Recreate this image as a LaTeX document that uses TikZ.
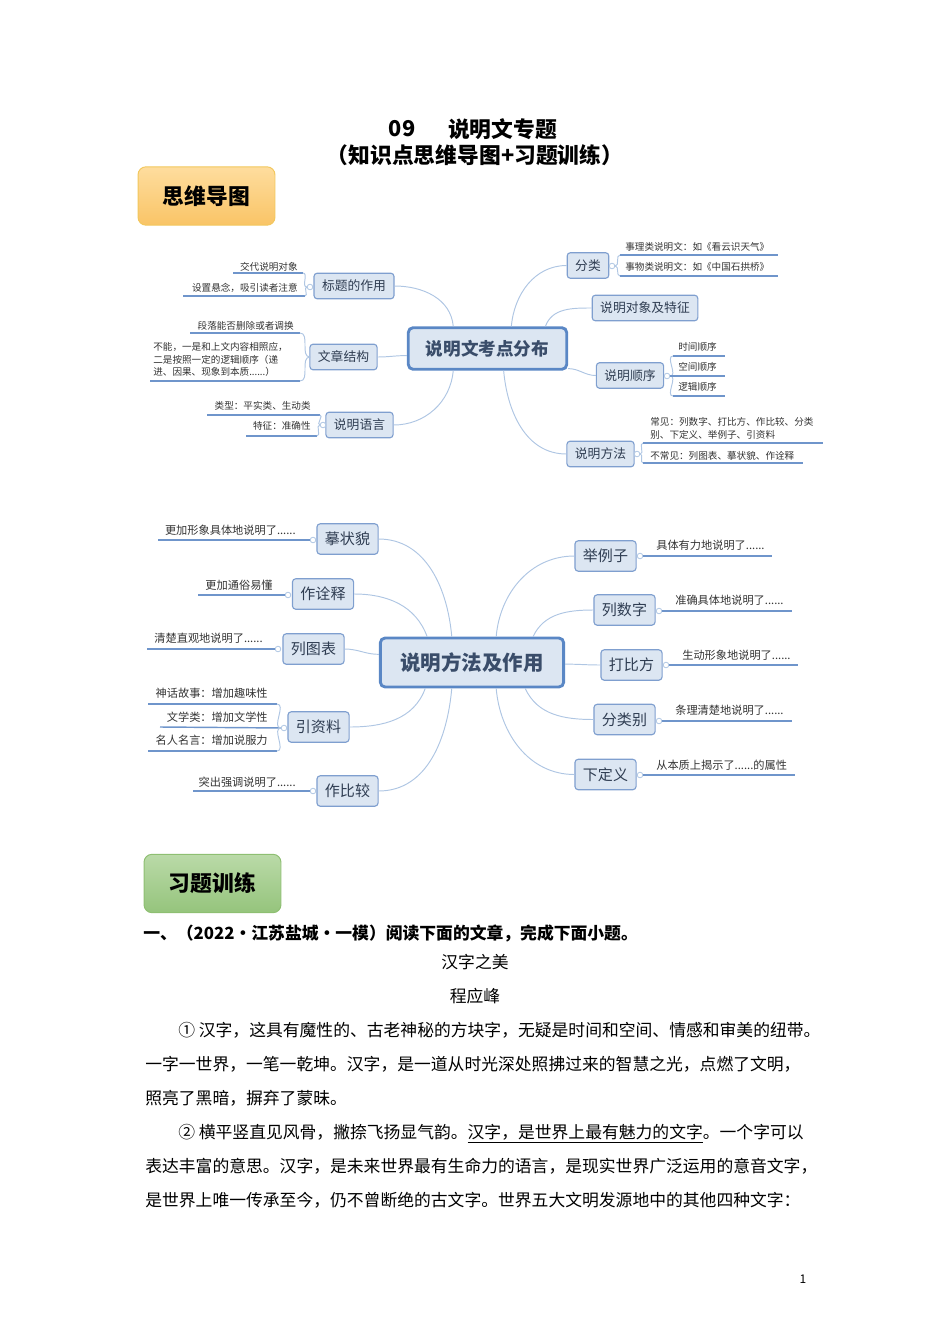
\documentclass[tikz,border=0pt]{standalone}
\usepackage{fontspec}
\setmainfont{Noto Sans CJK SC}
\usepackage{tikz}
\definecolor{boxfill}{HTML}{DCE6F2}
\definecolor{boxline}{HTML}{7F9FCF}
\definecolor{hubline}{HTML}{5A87C5}
\definecolor{linkblue}{HTML}{AFC6E3}
\definecolor{ulblue}{HTML}{6F95CB}
\definecolor{topictext}{HTML}{2F3D52}
\definecolor{hubtext}{HTML}{3A4D6A}
\definecolor{leaftext}{HTML}{333333}
\definecolor{orgtop}{HTML}{FEDD9E}
\definecolor{orgbot}{HTML}{F9C466}
\definecolor{orgline}{HTML}{F2C75C}
\definecolor{grntop}{HTML}{BADAA8}
\definecolor{grnbot}{HTML}{95C47C}
\definecolor{grnline}{HTML}{8EBF72}
\tikzstyle{topic}=[draw=boxline,line width=0.7pt,fill=boxfill,rounded corners=2pt,text=topictext,inner xsep=5pt,inner ysep=0pt,minimum height=16pt,font=\fontsize{8pt}{9pt}\selectfont]
\tikzstyle{topicb}=[topic,minimum height=19pt,font=\fontsize{9.4pt}{11pt}\selectfont]
\tikzstyle{hub}=[draw=hubline,line width=1.8pt,fill=boxfill,rounded corners=3pt,text=hubtext,inner xsep=11pt,inner ysep=0pt,minimum height=26pt,font=\bfseries\fontsize{11pt}{12pt}\selectfont]
\tikzstyle{hubb}=[hub,inner xsep=12.5pt,minimum height=30.6pt,font=\bfseries\fontsize{12.8pt}{14pt}\selectfont]
\tikzstyle{leaf}=[text=leaftext,inner sep=0pt,text height=5.3pt,text depth=0.7pt,font=\fontsize{6pt}{8pt}\selectfont]
\tikzstyle{leafm}=[text=leaftext,inner sep=0pt,align=left,font=\fontsize{6pt}{7.9pt}\selectfont]
\tikzstyle{leafb}=[text=leaftext,inner sep=0pt,text height=6.2pt,text depth=0.8pt,font=\fontsize{7pt}{8pt}\selectfont]
\tikzstyle{uline}=[draw=ulblue,line width=0.9pt]
\tikzstyle{link}=[draw=linkblue,line width=0.6pt]
\tikzstyle{dot}=[circle,draw=linkblue,fill=white,line width=0.5pt,minimum size=3.5pt,inner sep=0pt]
\tikzstyle{tag}=[rounded corners=5pt,line width=0.6pt,minimum width=85.6pt,minimum height=36.5pt,font=\bfseries\fontsize{13.6pt}{15pt}\selectfont]
\tikzstyle{head}=[inner sep=0pt,font=\bfseries\fontsize{13.6pt}{15pt}\selectfont]
\tikzstyle{para}=[inner sep=0pt,anchor=west,text height=9.2pt,text depth=1.3pt,font=\fontsize{10.5pt}{12pt}\selectfont]

\begin{document}
\begin{tikzpicture}[x=0.625pt,y=-0.625pt]
    \useasboundingbox (0,0) rectangle (950,1344);
    % title
    \node[head] (tno) at (402,129) {09};
    \node[head] (ttl) at (502.5,129) {说明文专题};
    \node[head] (sub) at (475,155) {（知识点思维导图+习题训练）};
    \node[tag,draw=orgline,top color=orgtop,bottom color=orgbot] (k1) at (206.5,196) {思维导图};

    % map 1
    \node[hub] (h1) at (487.5,348.5) {说明文考点分布};
    \node[topic] (n1) at (354,286)   {标题的作用};
    \node[topic] (n2) at (343.5,357) {文章结构};
    \node[topic] (n3) at (359.5,425) {说明语言};
    \node[topic] (n4) at (588,265.5) {分类};
    \node[topic] (n5) at (645,308)   {说明对象及特征};
    \node[topic] (n6) at (630,375.5) {说明顺序};
    \node[topic] (n7) at (600.5,454) {说明方法};
    \draw[link] (n1.east) to[out=0,in=95] (h1.147);
    \draw[link] (n2.east) to[out=0,in=180] (h1.185);
    \draw[link] (n3.east) to[out=0,in=265] (h1.213);
    \draw[link] (h1.43) to[out=85,in=180] (n4.west);
    \draw[link] (h1.21) to[out=70,in=180] (n5.west);
    \draw[link] (h1.-14) to[out=0,in=180] (n6.west);
    \draw[link] (h1.-54) to[out=-85,in=180] (n7.west);

    \node[dot] (d1) at (310,287) {};
    \node[leaf,anchor=east] (en11) at (298,267) {交代说明对象};
    \node[leaf,anchor=east] (en12) at (298,288) {设置悬念，吸引读者注意};
    \coordinate (u11) at (233,273); \coordinate (v11) at (303,273);
    \coordinate (u12) at (183,296); \coordinate (v12) at (305,296);
    \draw[uline] (u11) -- (v11);
    \draw[uline] (u12) -- (v12);
    \draw[link] (v11) to[out=0,in=180] (d1);
    \draw[link] (v12) to[out=0,in=180] (d1);

    \coordinate (d2) at (310,357);
    \node[leaf,anchor=east] (en21) at (294,326) {段落能否删除或者调换};
    \node[leafm,anchor=west] (en22) at (153,359.5) {不能，一是和上文内容相照应，\\二是按照一定的逻辑顺序（递\\进、因果、现象到本质......）};
    \coordinate (u21) at (190,333); \coordinate (v21) at (300,333);
    \coordinate (u22) at (150,381); \coordinate (v22) at (300,381);
    \draw[uline] (u21) -- (v21);
    \draw[uline] (u22) -- (v22);
    \draw[link] (v21) to[out=0,in=180] (d2);
    \draw[link] (v22) to[out=0,in=180] (d2);

    \node[dot] (d3) at (323,425) {};
    \node[leaf,anchor=east] (en31) at (311,406) {类型：平实类、生动类};
    \node[leaf,anchor=east] (en32) at (311,426) {特征：准确性};
    \coordinate (u31) at (207,415); \coordinate (v31) at (320,415);
    \coordinate (u32) at (246,436); \coordinate (v32) at (317,436);
    \draw[uline] (u31) -- (v31);
    \draw[uline] (u32) -- (v32);
    \draw[link] (v31) to[out=0,in=180] (d3);
    \draw[link] (v32) to[out=0,in=180] (d3);

    \node[dot] (d4) at (612,266) {};
    \node[leaf,anchor=west] (en41) at (625,247) {事理类说明文：如《看云识天气》};
    \node[leaf,anchor=west] (en42) at (625,267) {事物类说明文：如《中国石拱桥》};
    \coordinate (u41) at (620,255); \coordinate (v41) at (778,255);
    \coordinate (u42) at (620,276); \coordinate (v42) at (778,276);
    \draw[link] (d4) to[out=0,in=180] (u41);
    \draw[link] (d4) to[out=0,in=180] (u42);
    \draw[uline] (u41) -- (v41);
    \draw[uline] (u42) -- (v42);

    \node[dot] (d6) at (667,376) {};
    \node[leaf,anchor=west] (en61) at (678,347) {时间顺序};
    \node[leaf,anchor=west] (en62) at (678,367) {空间顺序};
    \node[leaf,anchor=west] (en63) at (678,387) {逻辑顺序};
    \coordinate (u61) at (673,356); \coordinate (v61) at (725,356);
    \coordinate (u62) at (673,376); \coordinate (v62) at (725,376);
    \coordinate (u63) at (673,396); \coordinate (v63) at (725,396);
    \draw[link] (d6) to[out=0,in=180] (u61);
    \draw[link] (d6) to[out=0,in=180] (u63);
    \draw[uline] (d6) -- (v62);
    \draw[uline] (u61) -- (v61);
    \draw[uline] (u63) -- (v63);

    \node[dot] (d7) at (637,454) {};
    \node[leafm,anchor=west] (en71) at (650,428.5) {常见：列数字、打比方、作比较、分类\\别、下定义、举例子、引资料};
    \node[leaf,anchor=west] (en72) at (650,456) {不常见：列图表、摹状貌、作诠释};
    \coordinate (u71) at (643,443); \coordinate (v71) at (823,443);
    \coordinate (u72) at (643,463); \coordinate (v72) at (803,463);
    \draw[link] (d7) to[out=0,in=180] (u71);
    \draw[link] (d7) to[out=0,in=180] (u72);
    \draw[uline] (u71) -- (v71);
    \draw[uline] (u72) -- (v72);

    % map 2
    \node[hubb] (h2) at (472,662.5) {说明方法及作用};
    \node[topicb] (m1) at (347.5,539)  {摹状貌};
    \node[topicb] (m2) at (323,594)    {作诠释};
    \node[topicb] (m3) at (313.5,649)  {列图表};
    \node[topicb] (m4) at (318.5,727)  {引资料};
    \node[topicb] (m5) at (347.5,791)  {作比较};
    \node[topicb] (m6) at (605.5,556)  {举例子};
    \node[topicb] (m7) at (624.5,610)  {列数字};
    \node[topicb] (m8) at (631.5,665)  {打比方};
    \node[topicb] (m9) at (624.5,719.5) {分类别};
    \node[topicb] (m10) at (605.5,774.5) {下定义};
    \draw[link] (m1.east) to[out=0,in=95] (h2.128);
    \draw[link] (m2.east) to[out=0,in=110] (h2.150);
    \draw[link] (m3.east) to[out=0,in=180] (h2.175);
    \draw[link] (m4.east) to[out=0,in=250] (h2.209);
    \draw[link] (m5.east) to[out=0,in=265] (h2.232);
    \draw[link] (h2.47) to[out=85,in=180] (m6.west);
    \draw[link] (h2.23) to[out=65,in=180] (m7.west);
    \draw[link] (h2.-1) to[out=0,in=180] (m8.west);
    \draw[link] (h2.-26) to[out=-65,in=180] (m9.west);
    \draw[link] (h2.-47) to[out=-85,in=180] (m10.west);

    \node[dot] (e1) at (313,540) {};
    \node[leafb,anchor=east] (en1) at (296,530) {更加形象具体地说明了......};
    \coordinate (w1) at (158,540);
    \draw[uline] (w1) -- (e1);
    \node[dot] (e2) at (288,595) {};
    \node[leafb,anchor=east] (en2) at (273,585) {更加通俗易懂};
    \coordinate (w2) at (198,595);
    \draw[uline] (w2) -- (e2);
    \node[dot] (e3) at (278,649) {};
    \node[leafb,anchor=east] (en3) at (263,638) {清楚直观地说明了......};
    \coordinate (w3) at (147,649);
    \draw[uline] (w3) -- (e3);
    \node[dot] (e4) at (284,728) {};
    \node[leafb,anchor=east] (en4a) at (268,693) {神话故事：增加趣味性};
    \node[leafb,anchor=east] (en4b) at (268,717) {文学类：增加文学性};
    \node[leafb,anchor=east] (en4c) at (268,740) {名人名言：增加说服力};
    \coordinate (w4a) at (148,704); \coordinate (x4a) at (277,704);
    \coordinate (w4b) at (160,727);
    \coordinate (w4c) at (148,751); \coordinate (x4c) at (277,751);
    \draw[uline] (w4a) -- (x4a);
    \draw[uline] (w4b) -- (e4);
    \draw[uline] (w4c) -- (x4c);
    \draw[link] (x4a) to[out=0,in=180] (e4);
    \draw[link] (x4c) to[out=0,in=180] (e4);
    \node[dot] (e5) at (313,791) {};
    \node[leafb,anchor=east] (en5) at (296,782) {突出强调说明了......};
    \coordinate (w5) at (193,791);
    \draw[uline] (w5) -- (e5);

    \node[dot] (e6) at (640,556) {};
    \node[leafb,anchor=west] (en6) at (656,545) {具体有力地说明了......};
    \coordinate (w6) at (772,556);
    \draw[uline] (e6) -- (w6);
    \node[dot] (e7) at (659,611) {};
    \node[leafb,anchor=west] (en7) at (675,600) {准确具体地说明了......};
    \coordinate (w7) at (792,611);
    \draw[uline] (e7) -- (w7);
    \node[dot] (e8) at (666,665) {};
    \node[leafb,anchor=west] (en8) at (682,655) {生动形象地说明了......};
    \coordinate (w8) at (798,665);
    \draw[uline] (e8) -- (w8);
    \node[dot] (e9) at (659,721) {};
    \node[leafb,anchor=west] (en9) at (675,710) {条理清楚地说明了......};
    \coordinate (w9) at (792,721);
    \draw[uline] (e9) -- (w9);
    \node[dot] (e10) at (640,775) {};
    \node[leafb,anchor=west] (en10) at (656,765) {从本质上揭示了......的属性};
    \coordinate (w10) at (795,775);
    \draw[uline] (e10) -- (w10);

    % exercise
    \node[tag,draw=grnline,top color=grntop,bottom color=grnbot] (k2) at (212.5,883.5) {习题训练};
    \node[para,font=\bfseries\fontsize{10.5pt}{12pt}\selectfont] (q0) at (143,933) {一、（2022•江苏盐城•一模）阅读下面的文章，完成下面小题。};
    \node[para,anchor=center] (t0) at (475,962) {汉字之美};
    \node[para,anchor=center] (a0) at (475,996) {程应峰};
    \node[para] (l1) at (178,1030) {① 汉字，这具有魔性的、古老神秘的方块字，无疑是时间和空间、情感和审美的纽带。};
    \node[para] (l2) at (145,1064) {一字一世界，一笔一乾坤。汉字，是一道从时光深处照拂过来的智慧之光，点燃了文明，};
    \node[para] (l3) at (145,1098) {照亮了黑暗，摒弃了蒙昧。};
    \node[para] (l4) at (178,1132) {② 横平竖直见风骨，撇捺飞扬显气韵。\underline{汉字，是世界上最有魅力的文字}。一个字可以};
    \node[para] (l5) at (145,1166) {表达丰富的意思。汉字，是未来世界最有生命力的语言，是现实世界广泛运用的意音文字，};
    \node[para] (l6) at (145,1200) {是世界上唯一传承至今，仍不曾断绝的古文字。世界五大文明发源地中的其他四种文字：};
    \node[inner sep=0pt,font=\fontsize{7.5pt}{9pt}\selectfont] (pg) at (803,1279) {1};
\end{tikzpicture}
\end{document}
